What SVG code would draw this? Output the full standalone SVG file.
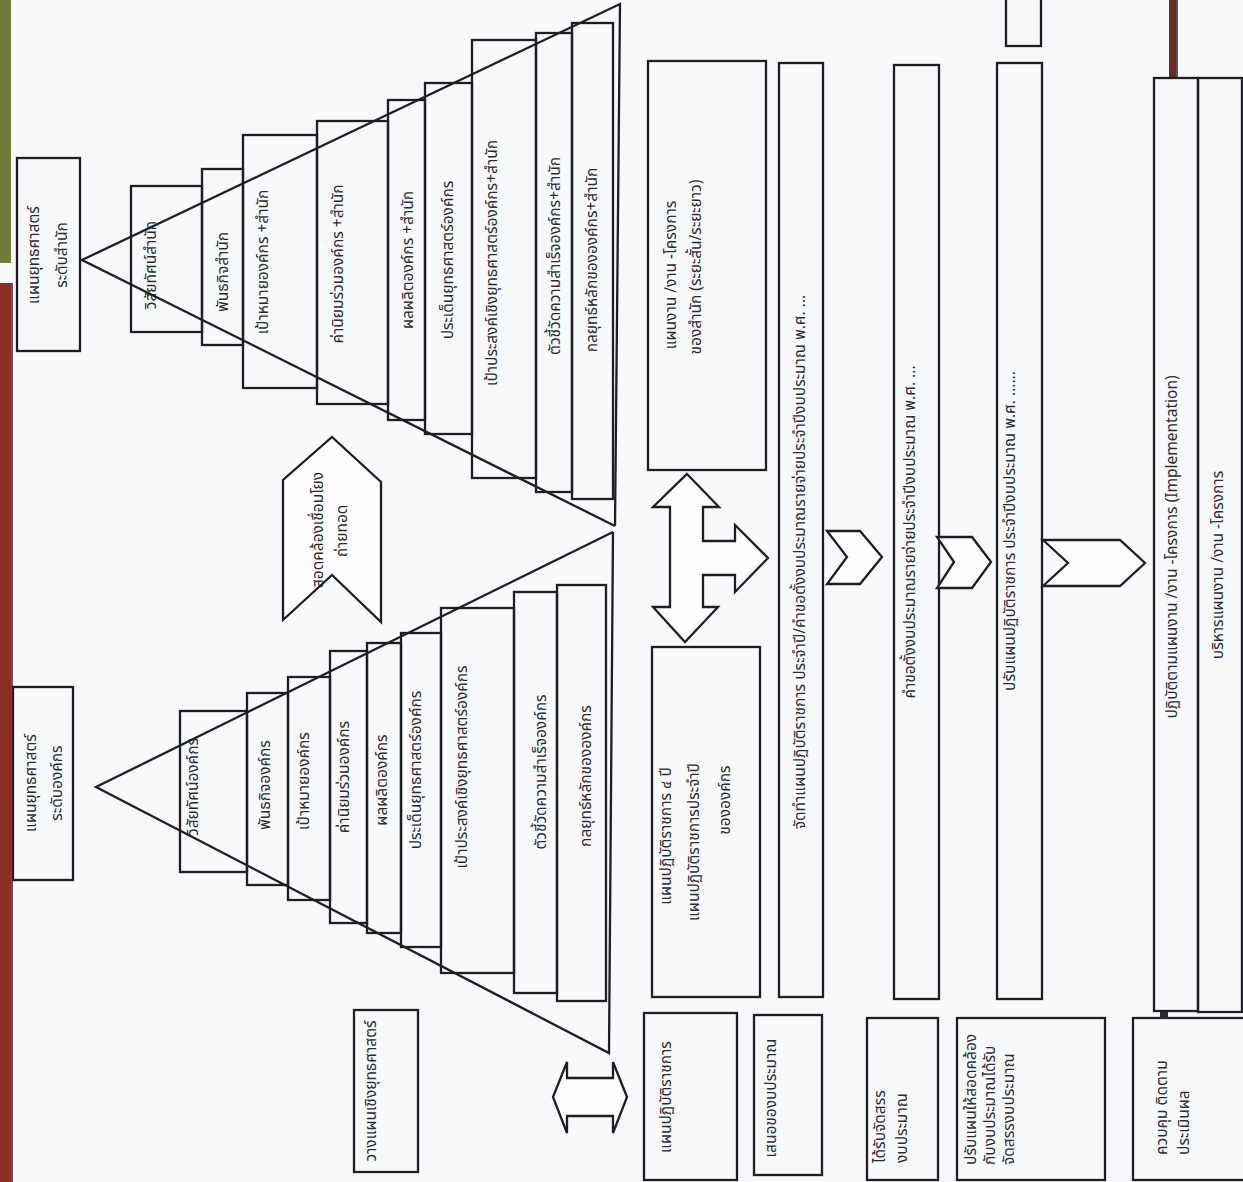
<svg xmlns="http://www.w3.org/2000/svg" width="1243" height="1182" viewBox="0 0 1243 1182">
<style>
.bx{fill:none;stroke:#1e1e26;stroke-width:2.3}
.ln{fill:none;stroke:#1e1e26;stroke-width:2.3}
.sh{fill:#fdfdfe;stroke:#1e1e26;stroke-width:2.3;stroke-linejoin:miter}
.t{font-family:"Noto Sans Thai","Noto Sans","DejaVu Sans",sans-serif;font-size:15.5px;fill:#2b2b33;text-anchor:middle;dominant-baseline:central}
.ts{font-family:"Noto Sans Thai","Noto Sans","DejaVu Sans",sans-serif;font-size:15.5px;fill:#2b2b33;text-anchor:start;dominant-baseline:central}
</style>
<rect x="0" y="0" width="1243" height="1182" fill="#f8f9fb"/>
<!-- scan edge bars -->
<rect x="0" y="0" width="11" height="263" fill="#6f7a3b"/>
<rect x="0" y="283" width="11" height="899" fill="#8a2d22"/>
<line x1="12" y1="283" x2="12" y2="1182" stroke="#3a1a16" stroke-width="1.5"/>
<rect x="1169" y="0" width="7" height="78" fill="#6b2a22"/>
<line x1="1177" y1="0" x2="1177" y2="78" stroke="#1e1e26" stroke-width="1.5"/>

<!-- right triangle (สำนัก) -->
<g id="n-office-title"><rect class="bx" x="17" y="158" width="63" height="193"/>
<text class="t" transform="translate(34,255) rotate(-90)">แผนยุทธศาสตร์</text>
<text class="t" transform="translate(62,255) rotate(-90)">ระดับสำนัก</text></g>
<g id="n-r1"><rect class="bx" x="131" y="186" width="71" height="146"/><text class="t" transform="translate(151,265) rotate(-90)">วิสัยทัศน์สำนัก</text></g>
<g id="n-r2"><rect class="bx" x="202" y="169" width="41" height="176"/><text class="t" transform="translate(223,272) rotate(-90)">พันธกิจสำนัก</text></g>
<g id="n-r3"><rect class="bx" x="243" y="135" width="74" height="253"/><text class="t" transform="translate(263,262) rotate(-90)">เป้าหมายองค์กร +สำนัก</text></g>
<g id="n-r4"><rect class="bx" x="317" y="121" width="71" height="283"/><text class="t" transform="translate(338,264) rotate(-90)">ค่านิยมร่วมองค์กร +สำนัก</text></g>
<g id="n-r5"><rect class="bx" x="388" y="100" width="37" height="320"/><text class="t" transform="translate(408,260) rotate(-90)">ผลผลิตองค์กร +สำนัก</text></g>
<g id="n-r6"><rect class="bx" x="425" y="83" width="47" height="351"/><text class="t" transform="translate(448,260) rotate(-90)">ประเด็นยุทธศาสตร์องค์กร</text></g>
<g id="n-r7"><rect class="bx" x="472" y="40" width="64" height="438"/><text class="t" transform="translate(492,263) rotate(-90)">เป้าประสงค์เชิงยุทธศาสตร์องค์กร+สำนัก</text></g>
<g id="n-r8"><rect class="bx" x="536" y="33" width="36" height="459"/><text class="t" transform="translate(555,256) rotate(-90)">ตัวชี้วัดความสำเร็จองค์กร+สำนัก</text></g>
<g id="n-r9"><rect class="bx" x="572" y="23" width="41" height="476"/><text class="t" transform="translate(592,260) rotate(-90)">กลยุทธ์หลักขององค์กร+สำนัก</text></g>

<!-- left triangle (องค์กร) -->
<g id="n-org-title"><rect class="bx" x="13" y="687" width="60" height="193"/>
<text class="t" transform="translate(31,783) rotate(-90)">แผนยุทธศาสตร์</text>
<text class="t" transform="translate(57,783) rotate(-90)">ระดับองค์กร</text></g>
<g id="n-l1"><rect class="bx" x="180" y="711" width="67" height="161"/><text class="t" transform="translate(193,787) rotate(-90)">วิสัยทัศน์องค์กร</text></g>
<g id="n-l2"><rect class="bx" x="247" y="693" width="41" height="192"/><text class="t" transform="translate(265,785) rotate(-90)">พันธกิจองค์กร</text></g>
<g id="n-l3"><rect class="bx" x="288" y="677" width="42" height="223"/><text class="t" transform="translate(304,781) rotate(-90)">เป้าหมายองค์กร</text></g>
<g id="n-l4"><rect class="bx" x="330" y="651" width="37" height="272"/><text class="t" transform="translate(344,777) rotate(-90)">ค่านิยมร่วมองค์กร</text></g>
<g id="n-l5"><rect class="bx" x="367" y="643" width="34" height="290"/><text class="t" transform="translate(382,780) rotate(-90)">ผลผลิตองค์กร</text></g>
<g id="n-l6"><rect class="bx" x="401" y="633" width="40" height="314"/><text class="t" transform="translate(416,770) rotate(-90)">ประเด็นยุทธศาสตร์องค์กร</text></g>
<g id="n-l7"><rect class="bx" x="441" y="608" width="73" height="365"/><text class="t" transform="translate(462,767) rotate(-90)">เป้าประสงค์เชิงยุทธศาสตร์องค์กร</text></g>
<g id="n-l8"><rect class="bx" x="514" y="592" width="43" height="401"/><text class="t" transform="translate(541,772) rotate(-90)">ตัวชี้วัดความสำเร็จองค์กร</text></g>
<g id="n-l9"><rect class="bx" x="557" y="585" width="49" height="416"/><text class="t" transform="translate(586,776) rotate(-90)">กลยุทธ์หลักขององค์กร</text></g>

<!-- triangles -->
<g id="triangles">
<polyline class="ln" points="615,526 82,260 620,4 615,526"/>
<polyline class="ln" points="613,532 96,787 609,1053 613,532"/>
</g>

<!-- middle boxes -->
<g id="n-office-plan"><rect class="bx" x="648" y="61" width="118" height="409"/>
<text class="t" transform="translate(671,275) rotate(-90)">แผนงาน /งาน -โครงการ</text>
<text class="t" transform="translate(696,267) rotate(-90)">ของสำนัก (ระยะสั้น/ระยะยาว)</text></g>
<g id="n-org-plan"><rect class="bx" x="652" y="647" width="108" height="350"/>
<text class="t" transform="translate(666,836) rotate(-90)">แผนปฏิบัติราชการ ๔ ปี</text>
<text class="t" transform="translate(694,842) rotate(-90)">แผนปฏิบัติราชการประจำปี</text>
<text class="t" transform="translate(725,800) rotate(-90)">ขององค์กร</text></g>

<g id="n-c1"><rect class="bx" x="779" y="63" width="44" height="934"/>
<text class="t" transform="translate(800,562) rotate(-90)">จัดทำแผนปฏิบัติราชการ ประจำปี/คำขอตั้งงบประมาณรายจ่ายประจำปีงบประมาณ พ.ศ. ...</text></g>
<g id="n-c2"><rect class="bx" x="894" y="65" width="45" height="934"/>
<text class="t" transform="translate(910,532) rotate(-90)">คำขอตั้งงบประมาณรายจ่ายประจำปีงบประมาณ พ.ศ. ...</text></g>
<g id="n-c3"><rect class="bx" x="997" y="63" width="45" height="936"/>
<text class="t" transform="translate(1010,531) rotate(-90)">ปรับแผนปฏิบัติราชการ ประจำปีงบประมาณ พ.ศ. ......</text></g>
<g id="n-c4"><rect class="bx" x="1154" y="78" width="44" height="933"/>
<text class="t" transform="translate(1172,547) rotate(-90)">ปฏิบัติตามแผนงาน /งาน -โครงการ (Implementation)</text></g>
<g id="n-c5"><rect class="bx" x="1198" y="78" width="44" height="934"/>
<text class="t" transform="translate(1218,565) rotate(-90)">บริหารแผนงาน /งาน -โครงการ</text></g>
<g id="n-small"><rect class="bx" x="1006" y="-2" width="35" height="48"/></g>

<!-- bottom row -->
<g id="n-b1"><rect class="bx" x="354" y="1010" width="64" height="162"/>
<text class="t" transform="translate(371,1091) rotate(-90)">วางแผนเชิงยุทธศาสตร์</text></g>
<g id="n-b2"><rect class="bx" x="644" y="1013" width="93" height="167"/>
<text class="t" transform="translate(666,1097) rotate(-90)">แผนปฏิบัติราชการ</text></g>
<g id="n-b3"><rect class="bx" x="754" y="1015" width="68" height="160"/>
<text class="t" transform="translate(771,1098) rotate(-90)">เสนอของบประมาณ</text></g>
<g id="n-b4"><rect class="bx" x="867" y="1018" width="71" height="162"/>
<text class="ts" transform="translate(880,1163) rotate(-90)">ได้รับจัดสรร</text>
<text class="ts" transform="translate(902,1163) rotate(-90)">งบประมาณ</text></g>
<g id="n-b5"><rect class="bx" x="957" y="1018" width="148" height="162"/>
<text class="ts" transform="translate(971,1165) rotate(-90)">ปรับแผนให้สอดคล้อง</text>
<text class="ts" transform="translate(990,1165) rotate(-90)">กับงบประมาณได้รับ</text>
<text class="ts" transform="translate(1009,1165) rotate(-90)">จัดสรรงบประมาณ</text></g>
<g id="n-b6"><rect class="bx" x="1133" y="1018" width="112" height="162"/>
<text class="ts" transform="translate(1162,1155) rotate(-90)">ควบคุม ติดตาม</text>
<text class="ts" transform="translate(1184,1155) rotate(-90)">ประเมินผล</text></g>
<rect x="1160" y="1012" width="8" height="7" fill="#2a2a30"/>

<!-- connectors -->
<g id="connectors">
<polygon class="sh" points="332,437 381,482 381,622 332,575 283,620 283,480"/>
<text class="t" transform="translate(318,530) rotate(-90)">สอดคล้องเชื่อมโยง</text>
<text class="t" transform="translate(342,531) rotate(-90)">ถ่ายทอด</text>
<polygon class="sh" points="687,474 719,507 703,507 703,541 735,541 735,525 768,558 735,592 735,575 703,575 703,607 718,607 685,642 653,607 670,607 670,507 653,507"/>
<polygon class="sh" points="553,1097 567,1062 567,1078 613,1078 613,1062 627,1097 613,1133 613,1116 567,1116 567,1133"/>
<polygon class="sh" points="827,531 860,531 882,557 860,584 827,584 847,557"/>
<polygon class="sh" points="937,537 972,537 991,562 972,588 937,588 954,562"/>
<polygon class="sh" points="1043,540 1120,540 1145,563 1120,586 1043,586 1068,563"/>
</g>
</svg>
